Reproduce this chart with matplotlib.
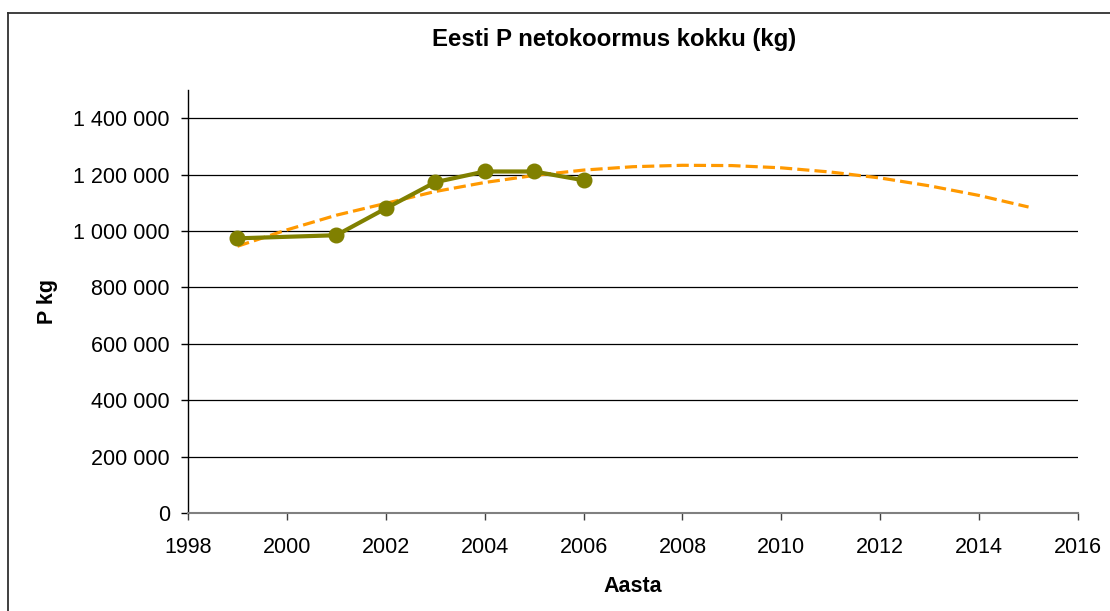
import matplotlib
matplotlib.use("Agg")
import matplotlib.pyplot as plt
from matplotlib.lines import Line2D
from matplotlib.ticker import FuncFormatter, MultipleLocator

plt.rcParams['font.family'] = ['Liberation Sans', 'DejaVu Sans']

# measured loads (no value for 2000)
years = [1999, 2001, 2002, 2003, 2004, 2005, 2006]
load_kg = [974000, 985000, 1080000, 1173000, 1211000, 1211000, 1180000]

# trendline
trend_years = list(range(1999, 2016))
trend_kg = [946000, 1004000, 1056000, 1098000, 1140000, 1172000, 1197000,
            1216000, 1228000, 1233000, 1232000, 1224000, 1209000, 1188000,
            1160000, 1126000, 1085000]

title = "Eesti P netokoormus kokku (kg)"
xlabel = "Aasta"
ylabel = "P kg"

W, H = 1110, 611
fig = plt.figure(figsize=(W / 100, H / 100), dpi=100)
ax = fig.add_axes([188 / W, (H - 513) / H, 890 / W, 423 / H])

ax.plot(trend_years, trend_kg, color='#FF9900', lw=2.3,
        dashes=(3.8, 1.6), zorder=3)
ax.plot(years, load_kg, color='#808000', lw=3.0, marker='o',
        markersize=10.5, zorder=4)

ax.set_xlim(1998, 2016)
ax.set_ylim(0, 1500000)
ax.xaxis.set_major_locator(MultipleLocator(2))
ax.set_yticks(range(0, 1400001, 200000))
ax.yaxis.set_major_formatter(FuncFormatter(lambda v, p: f"{int(v):,}".replace(",", " ")))
ax.grid(axis='y', color='black', lw=0.9)
ax.set_axisbelow(True)

for s in ['top', 'right']:
    ax.spines[s].set_visible(False)
ax.spines['left'].set_color('black')
ax.spines['bottom'].set_color('#808080')
ax.spines['left'].set_linewidth(1.0)
ax.spines['bottom'].set_linewidth(1.5)
ax.tick_params(axis='y', length=5, width=1.0, color='black', labelsize=15.5, pad=8)
ax.tick_params(axis='x', length=5, width=1.0, color='#404040', labelsize=15.5, pad=12)

fig.text(614 / W, 1 - 46 / H, title, ha='center', va='baseline',
         fontsize=17.3, fontweight='bold')
fig.text(633 / W, 1 - 586 / H, xlabel, ha='center', va='center',
         fontsize=15.5, fontweight='bold')
fig.text(47 / W, 1 - 301 / H, ylabel, ha='center', va='center',
         fontsize=15.5, fontweight='bold', rotation=90)

# chart area border (only left and top edges show)
fig.add_artist(Line2D([8 / W, 8 / W], [0, 1 - 13 / H], color='#303030', lw=1.3))
fig.add_artist(Line2D([8 / W, 1], [1 - 13 / H, 1 - 13 / H], color='#303030', lw=1.3))

fig.savefig("out.png", dpi=100)
